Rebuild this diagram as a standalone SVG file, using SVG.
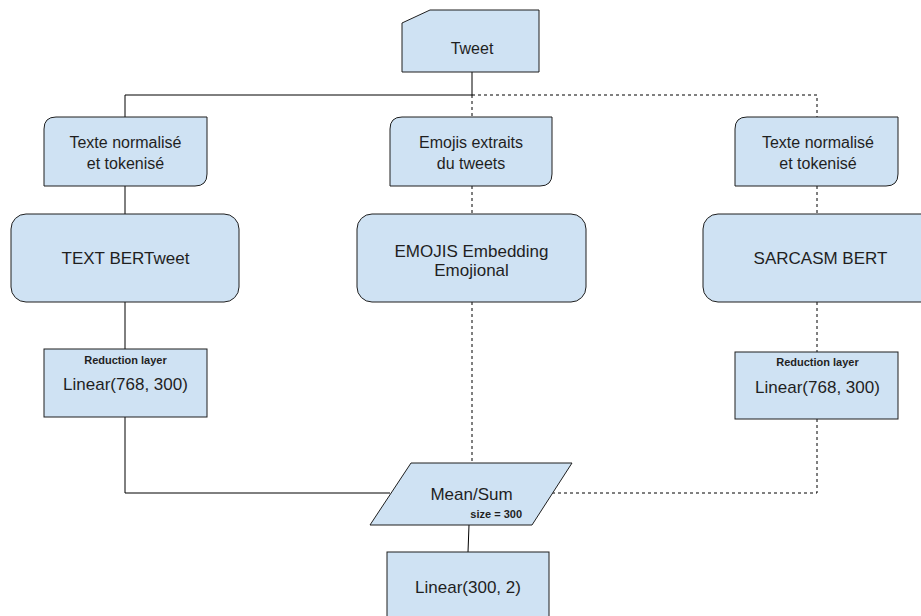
<svg xmlns="http://www.w3.org/2000/svg" width="921" height="616" viewBox="0 0 921 616">
  <style>
    .shape { fill: #cfe2f3; stroke: #1f1f1f; stroke-width: 1; }
    .lbl { font-family: "Liberation Sans", Arial, sans-serif; font-size: 16px; fill: #1f1f1f; text-anchor: middle; }
    .big { font-size: 17px; }
    .small { font-size: 11px; font-weight: bold; }
    .solid { fill: none; stroke: #000; stroke-width: 1; }
    .dash { fill: none; stroke: #000; stroke-width: 1; stroke-dasharray: 3 3; }
  </style>
  <rect width="921" height="616" fill="#ffffff"/>

  <!-- connectors -->
  <g id="connectors">
    <polyline class="solid" points="472,72 472,95 125,95 125,117"/>
    <line class="solid" x1="125" y1="186" x2="125" y2="214"/>
    <line class="solid" x1="125" y1="302" x2="125" y2="349"/>
    <polyline class="solid" points="125,417 125,493 390,493"/>
    <line class="solid" x1="469" y1="525" x2="468" y2="552"/>

    <polyline class="dash" points="472,95 817,95 817,117"/>
    <line class="dash" x1="472" y1="95" x2="472" y2="117"/>
    <line class="dash" x1="472" y1="186" x2="472" y2="214"/>
    <line class="dash" x1="472" y1="302" x2="472" y2="463"/>

    <line class="dash" x1="817" y1="186" x2="817" y2="214"/>
    <line class="dash" x1="817" y1="302" x2="817" y2="352"/>
    <polyline class="dash" points="817,419 817,493 552,493"/>
  </g>

  <!-- Tweet (card shape) -->
  <g id="tweet">
    <path class="shape" d="M430,10 H539 V72 H402 V23 Z"/>
    <text class="lbl" x="472" y="54">Tweet</text>
  </g>

  <!-- preprocessing cards -->
  <g id="text-norm-left">
    <path class="shape" d="M56,117 H207 V174 Q207,186 195,186 H44 V129 Q44,117 56,117 Z"/>
    <text class="lbl" x="125.5" y="148">Texte normalisé</text>
    <text class="lbl" x="125.5" y="169">et tokenisé</text>
  </g>
  <g id="emojis-extracted">
    <path class="shape" d="M402,117 H552 V174 Q552,186 540,186 H390 V129 Q390,117 402,117 Z"/>
    <text class="lbl" x="471" y="148">Emojis extraits</text>
    <text class="lbl" x="471" y="169">du tweets</text>
  </g>
  <g id="text-norm-right">
    <path class="shape" d="M747,117 H898 V174 Q898,186 886,186 H735 V129 Q735,117 747,117 Z"/>
    <text class="lbl" x="818" y="148">Texte normalisé</text>
    <text class="lbl" x="818" y="169">et tokenisé</text>
  </g>

  <!-- encoders -->
  <g id="text-bertweet">
    <rect class="shape" x="11" y="214" width="228" height="88" rx="15" ry="15"/>
    <text class="lbl big" x="125.5" y="264">TEXT BERTweet</text>
  </g>
  <g id="emojis-embedding">
    <rect class="shape" x="357" y="214" width="229" height="88" rx="15" ry="15"/>
    <text class="lbl big" x="471.5" y="256.5">EMOJIS Embedding</text>
    <text class="lbl big" x="471.5" y="276">Emojional</text>
  </g>
  <g id="sarcasm-bert">
    <rect class="shape" x="703" y="214" width="235" height="88" rx="15" ry="15"/>
    <text class="lbl big" x="820.5" y="264">SARCASM BERT</text>
  </g>

  <!-- reduction layers -->
  <g id="reduction-left">
    <rect class="shape" x="44" y="349" width="163" height="68"/>
    <text class="lbl small" x="125.5" y="364">Reduction layer</text>
    <text class="lbl big" x="125.5" y="390">Linear(768, 300)</text>
  </g>
  <g id="reduction-right">
    <rect class="shape" x="735" y="352" width="163" height="67"/>
    <text class="lbl small" x="817.5" y="366">Reduction layer</text>
    <text class="lbl big" x="817.5" y="393">Linear(768, 300)</text>
  </g>

  <!-- pooling -->
  <g id="mean-sum">
    <polygon class="shape" points="411,463 572,463 532,525 370,525"/>
    <text class="lbl big" x="471.5" y="500">Mean/Sum</text>
    <text class="lbl small" x="522" y="518" style="text-anchor:end">size = 300</text>
  </g>

  <!-- classifier -->
  <g id="classifier">
    <rect class="shape" x="387" y="552" width="162" height="70"/>
    <text class="lbl big" x="468" y="593">Linear(300, 2)</text>
  </g>
</svg>
